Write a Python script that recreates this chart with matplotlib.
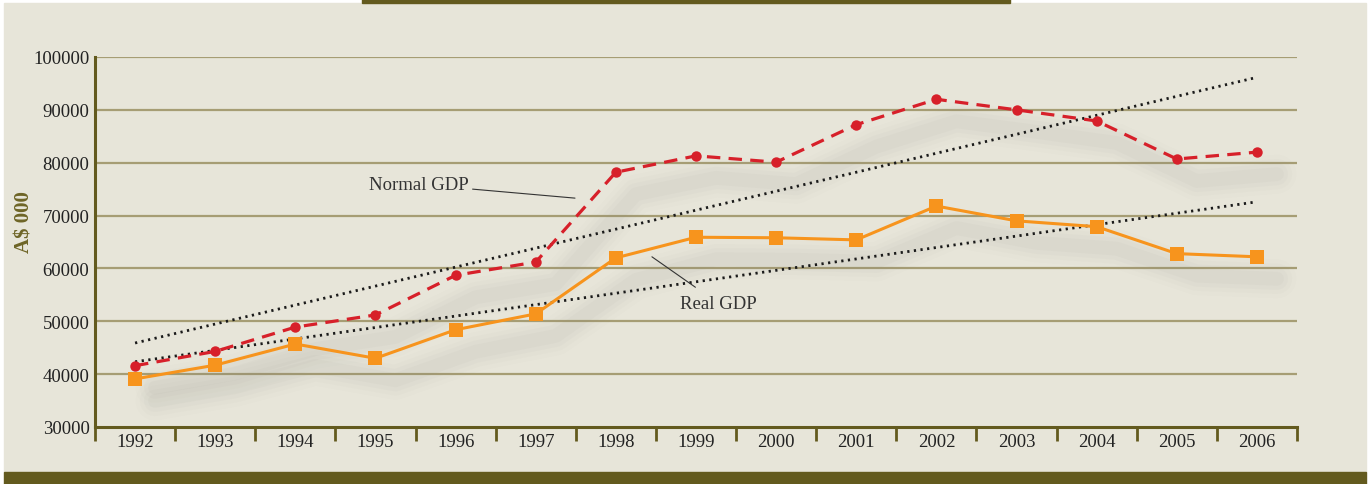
import matplotlib.pyplot as plt
import matplotlib.transforms as mtransforms
from matplotlib.patches import Rectangle
import numpy as np

# Data (A$ 000)
years = ['1992', '1993', '1994', '1995', '1996', '1997', '1998', '1999',
         '2000', '2001', '2002', '2003', '2004', '2005', '2006']
nominal_gdp = [41600, 44300, 48900, 51200, 58700, 61200, 78200, 81300,
               80100, 87200, 92000, 90000, 87900, 80700, 82000]
real_gdp = [39100, 41700, 45700, 43000, 48400, 51400, 62000, 65900,
            65800, 65400, 71800, 69000, 67900, 62800, 62200]
y_ticks = [30000, 40000, 50000, 60000, 70000, 80000, 90000, 100000]

olive = '#635a1e'
grid_col = '#a69d74'
bg_col = '#e7e5d9'
red = '#d7202a'
orange = '#f7941d'
font = ['Liberation Serif', 'DejaVu Serif']

W, H = 1368, 485
fig = plt.figure(figsize=(W / 100, H / 100), dpi=100, facecolor='white')

# panel background, top bar and bottom band (pixel coordinates)
def px_rect(x0, y0, x1, y1, color):
    fig.patches.append(Rectangle((x0 / W, 1 - y1 / H), (x1 - x0) / W, (y1 - y0) / H,
                                 transform=fig.transFigure, color=color, zorder=-10))

px_rect(4, 4, 1366, 473, bg_col)
px_rect(362, 0, 1010, 4, olive)
px_rect(4, 473, 1366, 485, olive)

ax = fig.add_axes([95 / W, 1 - 428 / H, (1297 - 95) / W, (428 - 58) / H])
ax.set_facecolor('none')
ax.set_zorder(5)

x = np.arange(len(years))

# soft drop shadows under the data lines
for vals in (nominal_gdp, real_gdp):
    for lw, a in [(28, 0.02), (22, 0.025), (16, 0.035), (10, 0.045)]:
        shift = mtransforms.offset_copy(ax.transData, fig=fig, x=20, y=-22, units='dots')
        ax.plot(x, vals, color='#8a8a80', lw=lw, alpha=a, solid_capstyle='round',
                solid_joinstyle='round', transform=shift, zorder=1)

# linear trend lines
for vals in (nominal_gdp, real_gdp):
    k, b = np.polyfit(x, vals, 1)
    ax.plot(x, k * x + b, color='#1a1a1a', lw=2, linestyle=(0, (0.8, 1.6)), zorder=3)

ax.plot(x, nominal_gdp, color=red, lw=2.3, linestyle=(0, (4.2, 2.6)), marker='o',
        markersize=7.5, markeredgewidth=0, zorder=4)
ax.plot(x, real_gdp, color=orange, lw=2.2, marker='s', markersize=10,
        markeredgewidth=0, zorder=4)

ax.set_xlim(-0.5, len(years) - 0.5)
ax.set_ylim(30000, 100000)
ax.set_yticks(y_ticks)
ax.set_yticklabels([str(v) for v in y_ticks], fontfamily=font, fontsize=13.5, color='#222222')
ax.tick_params(axis='y', length=0, pad=4)
for v in y_ticks[1:]:
    ax.axhline(v, color=grid_col, lw=1.6, zorder=0.5)

ax.set_xticks(np.arange(len(years) + 1) - 0.5)
ax.set_xticklabels([])
ax.set_xticks(x, minor=True)
ax.set_xticklabels(years, minor=True, fontfamily=font, fontsize=13.5, color='#222222')
ax.tick_params(axis='x', which='major', direction='out', length=10, width=2, color=olive)
ax.tick_params(axis='x', which='minor', length=0, pad=4)

for side in ('top', 'right'):
    ax.spines[side].set_visible(False)
for side in ('left', 'bottom'):
    ax.spines[side].set_color(olive)
    ax.spines[side].set_linewidth(2.2)

ax.set_ylabel('A$ 000', fontfamily=font, fontsize=15, fontweight='bold', color='#6e6526')
ax.yaxis.set_label_coords(-0.05, 0.557)

# callout labels
ax.annotate('Normal GDP', xy=(5.49, 73300), xytext=(4.16, 75900), fontfamily=font, fontsize=13.5,
            color='#333333', ha='right', va='center',
            arrowprops=dict(arrowstyle='-', color='#333333', lw=0.8, shrinkA=1, shrinkB=0))
ax.annotate('Real GDP', xy=(6.45, 62200), xytext=(6.8, 53400), fontfamily=font, fontsize=13.5,
            color='#333333', ha='left', va='center',
            arrowprops=dict(arrowstyle='-', color='#333333', lw=0.8, shrinkA=6, shrinkB=0))

fig.savefig('out.png', dpi=100, facecolor='white')
